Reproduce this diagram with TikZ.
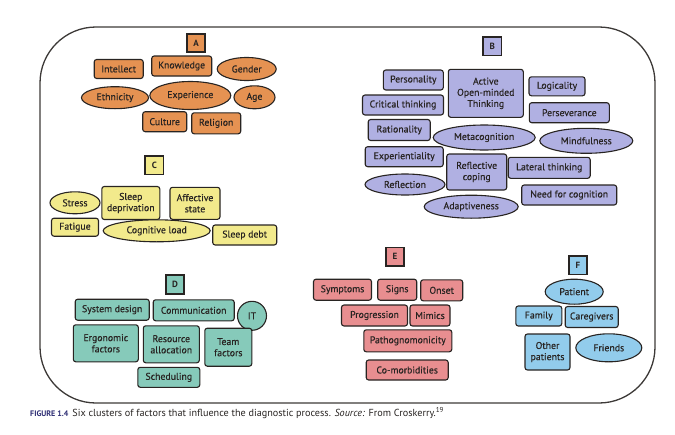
\documentclass[tikz,border=0pt]{standalone}
\usepackage{fontspec}
\setmainfont{PT Sans}
\newfontfamily\nodefont{PT Sans}[FakeBold=0.35]
\usetikzlibrary{shapes.geometric}
\definecolor{cA}{RGB}{229,146,82}
\definecolor{cB}{RGB}{176,176,226}
\definecolor{cC}{RGB}{242,234,140}
\definecolor{cD}{RGB}{134,202,186}
\definecolor{cE}{RGB}{232,142,144}
\definecolor{cF}{RGB}{146,204,236}
\definecolor{ink}{RGB}{40,36,34}
\definecolor{capblue}{RGB}{45,45,115}
\tikzset{
  base/.style={draw=ink, line width=1.1pt, text=ink, font=\nodefont\fontsize{9.8}{11.2}\selectfont, inner sep=0pt, align=center},
  rbox/.style={base, rectangle, rounded corners=2.5pt},
  ell/.style={base, ellipse},
  sz/.style 2 args={minimum width=#1pt, minimum height=#2pt},
  lab/.style={draw=ink, line width=1.7pt, rectangle, minimum size=18.5pt, inner sep=0pt, text=ink, font=\fontsize{9}{10}\selectfont\bfseries},
  frame/.style={draw=ink!90, line width=1.3pt, rounded corners=56pt},
}
\begin{document}
\begin{tikzpicture}[x=1pt, y=-1pt]
\useasboundingbox (0,0) rectangle (675,434);
\draw[frame] (40,27) rectangle (655,403);

% A
\node[lab, fill=cA] (A) at (196,43) {A};
\node[rbox, fill=cA, sz={49}{19}] (intellect) at (118.7,69) {Intellect};
\node[rbox, fill=cA, sz={60}{20}] (knowledge) at (181.7,66) {Knowledge};
\node[ell, fill=cA, sz={59}{23}] (gender) at (246.7,69) {Gender};
\node[ell, fill=cA, sz={67}{22}] (ethnicity) at (115,97.7) {Ethnicity};
\node[ell, fill=cA, sz={81}{28}] (experience) at (190.3,95.5) {Experience};
\node[ell, fill=cA, sz={41}{23}] (age) at (254.5,97.3) {Age};
\node[rbox, fill=cA, sz={44}{20}] (culture) at (164.7,121.7) {Culture};
\node[rbox, fill=cA, sz={49}{21}] (religion) at (216.2,123.3) {Religion};

% B
\node[lab, fill=cB] (B) at (492.2,46.3) {B};
\node[rbox, fill=cB, sz={60}{20}] (personality) at (413.3,80) {Personality};
\node[rbox, fill=cB, sz={75}{48}] (aomt) at (485.8,93.3) {Active\\Open-minded\\Thinking};
\node[rbox, fill=cB, sz={56}{19}] (logicality) at (557,86.3) {Logicality};
\node[rbox, fill=cB, sz={81}{20}] (critical) at (403,105) {Critical thinking};
\node[rbox, fill=cB, sz={80}{20}] (perseverance) at (569.3,112.7) {Perseverance};
\node[rbox, fill=cB, sz={62}{21}] (rationality) at (399.2,130) {Rationality};
\node[ell, fill=cB, sz={102}{25}] (metacognition) at (484.2,137.5) {Metacognition};
\node[ell, fill=cB, sz={93}{25}] (mindfulness) at (586.3,140.8) {Mindfulness};
\node[rbox, fill=cB, sz={78}{20}] (experientiality) at (404.2,156.7) {Experientiality};
\node[rbox, fill=cB, sz={60}{36}] (coping) at (476.7,172) {Reflective\\coping};
\node[rbox, fill=cB, sz={82}{21}] (lateral) at (549.2,167.8) {Lateral thinking};
\node[ell, fill=cB, sz={80}{21}] (reflection) at (405,184.5) {Reflection};
\node[rbox, fill=cB, sz={95}{20}] (needcog) at (569.2,195) {Need for cognition};
\node[ell, fill=cB, sz={94}{23}] (adaptiveness) at (471.2,206.7) {Adaptiveness};

% C
\node[lab, fill=cC] (C) at (154.3,165.3) {C};
\node[ell, fill=cC, sz={50}{22}] (stress) at (75,202.8) {Stress};
\node[rbox, fill=cC, sz={58}{33}] (sleepdep) at (130.8,203) {Sleep\\deprivation};
\node[rbox, fill=cC, sz={50}{32}] (affective) at (195,203.3) {Affective\\state};
\node[rbox, fill=cC, sz={47}{18}] (fatigue) at (75,227.2) {Fatigue};
\node[ell, fill=cC, sz={107}{22}] (cogload) at (156.7,230.8) {Cognitive load};
\node[rbox, fill=cC, sz={64}{20}] (sleepdebt) at (244.7,235) {Sleep debt};

% D
\node[lab, fill=cD] (D) at (175,284.5) {D};
\node[rbox, fill=cD, sz={74}{21}] (sysdesign) at (112.2,309.7) {System design};
\node[rbox, fill=cD, sz={81}{21}] (communication) at (193.7,310.3) {Communication};
\node[ell, fill=cD, sz={29}{29}] (IT) at (252,315.8) {IT};
\node[rbox, fill=cD, sz={65}{37}] (ergonomic) at (105.8,343.3) {Ergonomic\\factors};
\node[rbox, fill=cD, sz={56}{37}] (resource) at (171.3,344.3) {Resource\\allocation};
\node[rbox, fill=cD, sz={47}{38}] (team) at (228.3,347.2) {Team\\factors};
\node[rbox, fill=cD, sz={62}{20}] (scheduling) at (168.8,377.3) {Scheduling};

% E
\node[lab, fill=cE] (E) at (395,256.7) {E};
\node[rbox, fill=cE, sz={58}{21}] (symptoms) at (342.5,289.7) {Symptoms};
\node[rbox, fill=cE, sz={39}{21}] (signs) at (397.2,289.7) {Signs};
\node[rbox, fill=cE, sz={42}{21}] (onset) at (441.7,290.3) {Onset};
\node[rbox, fill=cE, sz={66}{21}] (progression) at (374.5,315.5) {Progression};
\node[rbox, fill=cE, sz={40}{21}] (mimics) at (430,315.5) {Mimics};
\node[rbox, fill=cE, sz={88}{22}] (patho) at (407.8,340.8) {Pathognomonicity};
\node[rbox, fill=cE, sz={82}{20}] (comorb) at (407.2,370) {Co-morbidities};

% F
\node[lab, fill=cF] (F) at (578,265.3) {F};
\node[ell, fill=cF, sz={58}{25}] (patient) at (574.2,291.7) {Patient};
\node[rbox, fill=cF, sz={46}{20}] (family) at (538.8,316) {Family};
\node[rbox, fill=cF, sz={53}{21}] (caregivers) at (591.7,317) {Caregivers};
\node[rbox, fill=cF, sz={45}{36}] (otherpat) at (547.5,352) {Other\\patients};
\node[ell, fill=cF, sz={66}{28}] (friends) at (608.8,347.8) {Friends};

% caption
\node[anchor=base west, inner sep=0pt, text=ink, font=\fontsize{10.2}{12}\selectfont] (caption) at (30,416)
  {{\color{capblue}\fontsize{8}{9}\selectfont\bfseries FIGURE 1.4}\hspace{4pt}Six clusters of factors that influence the diagnostic process. \textit{Source:} From Croskerry.\textsuperscript{19}};
\end{tikzpicture}
\end{document}
